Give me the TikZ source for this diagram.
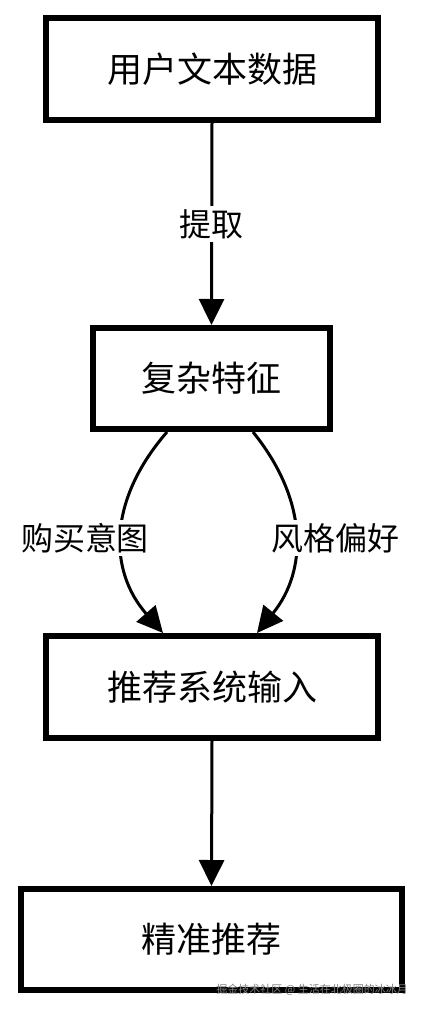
\documentclass[tikz,border=0pt]{standalone}
\usepackage{fontspec}
\setmainfont{Noto Sans CJK SC}
\usetikzlibrary{arrows.meta}
\begin{document}
\begin{tikzpicture}[x=1pt,y=-1pt,
  box/.style={draw=black, line width=6pt, fill=white, inner sep=0pt,
    font=\fontsize{35}{40}\selectfont},
  lbl/.style={fill=white, inner sep=3pt, font=\fontsize{32}{38}\selectfont},
  conn/.style={draw=black, line width=3pt,
    -{Triangle[length=26pt,width=25pt]}}
]
\useasboundingbox (0,0) rectangle (422,1010);
\node[box, minimum width=332pt, minimum height=102pt] (b1) at (212,69) {用户文本数据};
\node[box, minimum width=237pt, minimum height=101pt] (b2) at (211.5,378.5) {复杂特征};
\node[box, minimum width=332pt, minimum height=102pt] (b3) at (212,687) {推荐系统输入};
\node[box, minimum width=381pt, minimum height=101pt] (b4) at (211.5,939.5) {精准推荐};

\draw[conn] (b1.south) -- node[lbl, pos=0.5] (l1) {提取} (b2.north);

\coordinate (s1) at ([xshift=-44.5pt]b2.south);
\coordinate (s2) at ([xshift=41.5pt]b2.south);
\coordinate (e1) at ([xshift=-49pt]b3.north);
\coordinate (e2) at ([xshift=45pt]b3.north);

\draw[conn] (s1) .. controls ([shift={(-59,68)}]s1) and ([shift={(-55,-63)}]e1) .. (e1);
\draw[conn] (s2) .. controls ([shift={(55,68)}]s2) and ([shift={(51,-63)}]e2) .. (e2);
\node[lbl] (l2) at (85,538) {购买意图};
\node[lbl] (l3) at (335,538) {风格偏好};

\draw[conn] (b3.south) -- (b4.north);

\node[font=\fontsize{11}{12}\selectfont, text=gray, anchor=east, inner sep=0pt] (wm) at (408,990) {掘金技术社区 @ 生活在北极圈的冰冰月};
\end{tikzpicture}
\end{document}
